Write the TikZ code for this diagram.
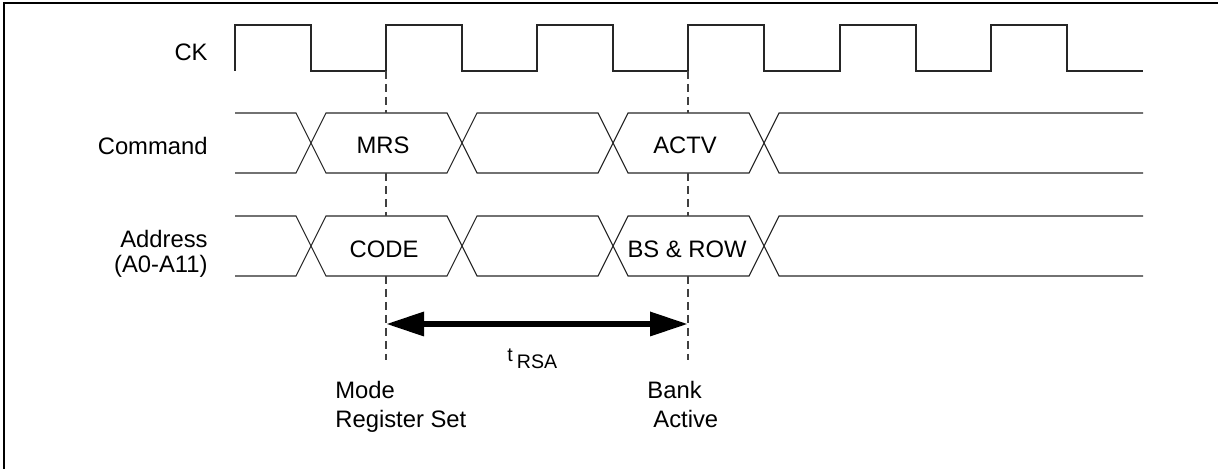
\documentclass[tikz,border=0pt]{standalone}
\usepackage{fontspec}
\setmainfont{Liberation Sans}
\usetikzlibrary{arrows.meta}
\begin{document}
\begin{tikzpicture}[x=0.5pt,y=-0.5pt,
  wave/.style={line width=0.55pt, draw=black!85},
  frameline/.style={line width=1pt, draw=black},
  guide/.style={line width=0.55pt, draw=black!75, dash pattern=on 4pt off 2.5pt},
  lbl/.style={font=\fontsize{11.9}{14.5}\selectfont, inner sep=0pt},
  sublbl/.style={font=\fontsize{9.8}{11}\selectfont, inner sep=0pt},
  timearrow/.style={line width=3.2pt, {Triangle[length=19pt,width=11.5pt]}-{Triangle[length=19pt,width=11.5pt]}}]
\useasboundingbox (0,0) rectangle (1218,469);
% frame
\draw[frameline] (4,469) -- (4,3) -- (1218,3);
% clock
\draw[wave] (235,71) -- (235,25) -- (311,25) -- (311,71) -- (386,71) -- (386,25) -- (462,25) -- (462,71)
  -- (537,71) -- (537,25) -- (613,25) -- (613,71) -- (688,71) -- (688,25) -- (764,25) -- (764,71)
  -- (840,71) -- (840,25) -- (916,25) -- (916,71) -- (991,71) -- (991,25) -- (1067,25) -- (1067,71) -- (1143,71);
% command bus
\draw[wave] (235,113) -- (296,113) -- (326,173) -- (447,173) -- (477,113) -- (598,113) -- (628,173) -- (749,173) -- (779,113) -- (1143,113);
\draw[wave] (235,173) -- (296,173) -- (326,113) -- (447,113) -- (477,173) -- (598,173) -- (628,113) -- (749,113) -- (779,173) -- (1143,173);
% address bus
\draw[wave] (235,216) -- (296,216) -- (326,276) -- (447,276) -- (477,216) -- (598,216) -- (628,276) -- (749,276) -- (779,216) -- (1143,216);
\draw[wave] (235,276) -- (296,276) -- (326,216) -- (447,216) -- (477,276) -- (598,276) -- (628,216) -- (749,216) -- (779,276) -- (1143,276);
% guide coordinates
\coordinate (m0) at (386,71);  \coordinate (m1) at (386,113);
\coordinate (m2) at (386,173); \coordinate (m3) at (386,216);
\coordinate (m4) at (386,276); \coordinate (m5) at (386,360);
\coordinate (b0) at (688,71);  \coordinate (b1) at (688,113);
\coordinate (b2) at (688,173); \coordinate (b3) at (688,216);
\coordinate (b4) at (688,276); \coordinate (b5) at (688,360);
\draw[guide] (m0) -- (m1) (m2) -- (m3) (m4) -- (m5);
\draw[guide] (b0) -- (b1) (b2) -- (b3) (b4) -- (b5);
% time arrow
\coordinate (ta) at (386,324);
\coordinate (tb) at (688,324);
\draw[timearrow] (ta) -- (tb);
% labels
\node[lbl, anchor=base east] (ck) at (208,61) {CK};
\node[lbl, anchor=base east] (cmd) at (208,155) {Command};
\node[lbl, anchor=base east] (addr) at (208,248) {Address};
\node[lbl, anchor=base east] (addr2) at (208,273) {(A0-A11)};
\node[lbl, anchor=base] (mrs) at (383,154) {MRS};
\node[lbl, anchor=base] (actv) at (685,154) {ACTV};
\node[lbl, anchor=base] (code) at (384,258) {CODE};
\node[lbl, anchor=base] (bsrow) at (687,258) {BS \& ROW};
\node[sublbl, anchor=base west] (trsa) at (507,362) {t\hspace{2pt}\raisebox{-3.5pt}{RSA}};
\node[lbl, anchor=base west] (mode1) at (335,398) {Mode};
\node[lbl, anchor=base west] (mode2) at (335,427) {Register Set};
\node[lbl, anchor=base west] (bank1) at (647,398) {Bank};
\node[lbl, anchor=base west] (bank2) at (653,427) {Active};
\end{tikzpicture}
\end{document}
